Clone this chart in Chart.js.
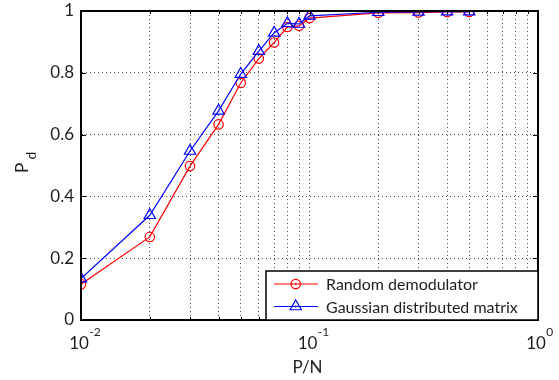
<!DOCTYPE html>
<html>
<head>
<meta charset="utf-8">
<script src="https://cdn.jsdelivr.net/npm/chart.js@4/dist/chart.umd.min.js"></script>
<style>
  html, body { margin: 0; padding: 0; background: #fff; }
  #wrap { width: 559px; height: 380px; position: relative; }
</style>
</head>
<body>
<div id="wrap"><canvas id="c" width="559" height="380"></canvas></div>
<script>
// ---- data ----
const xValues = [0.01, 0.02, 0.03, 0.04, 0.05, 0.06, 0.07, 0.08, 0.09, 0.1, 0.2, 0.3, 0.4, 0.5];
const randomDemodulator = [0.116, 0.269, 0.498, 0.633, 0.767, 0.846, 0.898, 0.948, 0.952, 0.977, 0.994, 0.995, 0.997, 0.997];
const gaussianMatrix = [0.134, 0.339, 0.547, 0.677, 0.796, 0.870, 0.929, 0.960, 0.958, 0.984, 0.996, 0.997, 0.998, 0.998];
const seriesLabels = ['Random demodulator', 'Gaussian distributed matrix'];
const xTicks = [0.01, 0.02, 0.03, 0.04, 0.05, 0.06, 0.07, 0.08, 0.09, 0.1, 0.2, 0.3, 0.4, 0.5, 0.6, 0.7, 0.8, 0.9, 1];
const xDecades = [0.01, 0.1, 1];
const xDecadeExponents = ['-2', '-1', '0'];
const yTicks = [0, 0.2, 0.4, 0.6, 0.8, 1];
const yTickLabels = ['0', '0.2', '0.4', '0.6', '0.8', '1'];
const xTitle = 'P/N';
const yTitleMain = 'P';
const yTitleSub = 'd';

const FONT = 'Lato, "Open Sans", sans-serif';
const TEXT = '#1f1f1f';

const decorPlugin = {
  id: 'decor',
  afterDraw(chart) {
    const ctx = chart.ctx;
    const a = chart.chartArea;
    const xs = chart.scales.x, ys = chart.scales.y;
    ctx.save();
    // inner ticks
    ctx.strokeStyle = '#000';
    ctx.lineWidth = 1;
    xTicks.forEach(v => {
      const px = Math.round(xs.getPixelForValue(v)) + 0.5;
      const len = xDecades.includes(v) ? 5 : 3;
      ctx.beginPath();
      ctx.moveTo(px, a.bottom); ctx.lineTo(px, a.bottom - len);
      ctx.moveTo(px, a.top); ctx.lineTo(px, a.top + len);
      ctx.stroke();
    });
    yTicks.forEach(v => {
      const py = Math.round(ys.getPixelForValue(v)) + 0.5;
      ctx.beginPath();
      ctx.moveTo(a.left, py); ctx.lineTo(a.left + 5, py);
      ctx.moveTo(a.right, py); ctx.lineTo(a.right - 5, py);
      ctx.stroke();
    });
    // box
    ctx.lineWidth = 2;
    ctx.strokeRect(a.left, a.top, a.right - a.left, a.bottom - a.top);

    // x decade labels
    ctx.fillStyle = TEXT;
    ctx.textBaseline = 'alphabetic';
    ctx.textAlign = 'left';
    xDecades.forEach((v, i) => {
      const px = xs.getPixelForValue(v);
      ctx.font = '17px ' + FONT;
      const w = ctx.measureText('10').width;
      const left = px - 2 - w / 2;
      ctx.fillText('10', left, 349);
      ctx.font = '12px ' + FONT;
      ctx.fillText(xDecadeExponents[i], left + w + 0.5, 336);
    });
    // x title
    ctx.font = '17px ' + FONT;
    ctx.textAlign = 'center';
    ctx.fillText(xTitle, (a.left + a.right) / 2 - 2, 373);
    // y title (rotated)
    ctx.save();
    ctx.translate(28, 173);
    ctx.rotate(-Math.PI / 2);
    ctx.textAlign = 'left';
    ctx.font = '17px ' + FONT;
    ctx.fillText(yTitleMain, 0, 0);
    const pw = ctx.measureText(yTitleMain + ' ').width;
    ctx.font = '14px ' + FONT;
    ctx.fillText(yTitleSub, pw - 1, 8);
    ctx.restore();

    // legend
    const lx = 266, ly = 271, lw = a.right - 266, lh = a.bottom - 271;
    ctx.fillStyle = '#fff';
    ctx.fillRect(lx, ly, lw, lh);
    ctx.strokeStyle = '#000';
    ctx.lineWidth = 1.5;
    ctx.strokeRect(lx, ly, lw, lh);
    const rows = [284, 306.5];
    chart.data.datasets.forEach((ds, i) => {
      const ry = rows[i];
      ctx.strokeStyle = ds.borderColor;
      ctx.lineWidth = 1.2;
      ctx.beginPath();
      ctx.moveTo(274, ry); ctx.lineTo(318, ry);
      ctx.stroke();
      const mx = 295.7;
      ctx.beginPath();
      if (ds.pointStyle === 'circle') {
        ctx.arc(mx, ry, 4.7, 0, Math.PI * 2);
      } else {
        const r = 6.5;
        ctx.moveTo(mx, ry - r);
        ctx.lineTo(mx + r * Math.sin(2 * Math.PI / 3), ry + r / 2);
        ctx.lineTo(mx - r * Math.sin(2 * Math.PI / 3), ry + r / 2);
        ctx.closePath();
      }
      ctx.stroke();
      ctx.fillStyle = ds.borderColor;
      ctx.beginPath();
      ctx.arc(mx, ry, 1, 0, Math.PI * 2);
      ctx.fill();
      ctx.fillStyle = TEXT;
      ctx.font = '16px ' + FONT;
      ctx.textAlign = 'left';
      ctx.textBaseline = 'middle';
      ctx.fillText(ds.label, 326, ry + 1);
    });
    ctx.restore();
  }
};

function zeroPad(s) { s.paddingTop = 0; s.paddingBottom = 0; s.paddingLeft = 0; s.paddingRight = 0; }

function build() {
  const mk = arr => xValues.map((x, i) => ({ x: x, y: arr[i] }));
  new Chart(document.getElementById('c'), {
    type: 'line',
    data: {
      datasets: [
        {
          label: seriesLabels[0],
          data: mk(randomDemodulator),
          borderColor: '#ff0000',
          backgroundColor: 'rgba(0,0,0,0)',
          pointBackgroundColor: 'rgba(0,0,0,0)',
          pointBorderColor: '#ff0000',
          pointStyle: 'circle',
          pointRadius: 4.7,
          pointBorderWidth: 1.2,
          borderWidth: 1.2,
          tension: 0,
          order: 1
        },
        {
          label: seriesLabels[1],
          data: mk(gaussianMatrix),
          borderColor: '#0000ff',
          backgroundColor: 'rgba(0,0,0,0)',
          pointBackgroundColor: 'rgba(0,0,0,0)',
          pointBorderColor: '#0000ff',
          pointStyle: 'triangle',
          pointRadius: 6.5,
          pointBorderWidth: 1.2,
          borderWidth: 1.2,
          tension: 0,
          order: 0
        }
      ]
    },
    options: {
      responsive: false,
      animation: false,
      events: [],
      layout: { padding: { left: 0, right: 21, top: 11, bottom: 0 } },
      plugins: { legend: { display: false }, tooltip: { enabled: false } },
      scales: {
        x: {
          type: 'logarithmic',
          min: 0.01,
          max: 1,
          afterBuildTicks: s => { s.ticks = xTicks.map(v => ({ value: v })); },
          afterFit: s => { s.height = 60; zeroPad(s); },
          ticks: { display: false },
          grid: { color: 'rgba(0,0,0,0.7)', lineWidth: 1, drawTicks: false },
          border: { display: true, color: '#000', width: 2, dash: [1, 3] }
        },
        y: {
          type: 'linear',
          min: 0,
          max: 1,
          afterBuildTicks: s => { s.ticks = yTicks.map(v => ({ value: v })); },
          afterFit: s => { s.width = 81; zeroPad(s); },
          ticks: {
            color: TEXT,
            font: { family: FONT, size: 17 },
            padding: 7,
            callback: (v, i) => yTickLabels[i]
          },
          grid: { color: 'rgba(0,0,0,0.7)', lineWidth: 1, drawTicks: false },
          border: { display: true, color: '#000', width: 2, dash: [1, 3] }
        }
      }
    },
    plugins: [decorPlugin]
  });
}

if (document.fonts && document.fonts.load) {
  Promise.all([document.fonts.load('17px Lato'), document.fonts.load('12px Lato')]).then(build, build);
} else {
  build();
}
</script>
</body>
</html>
